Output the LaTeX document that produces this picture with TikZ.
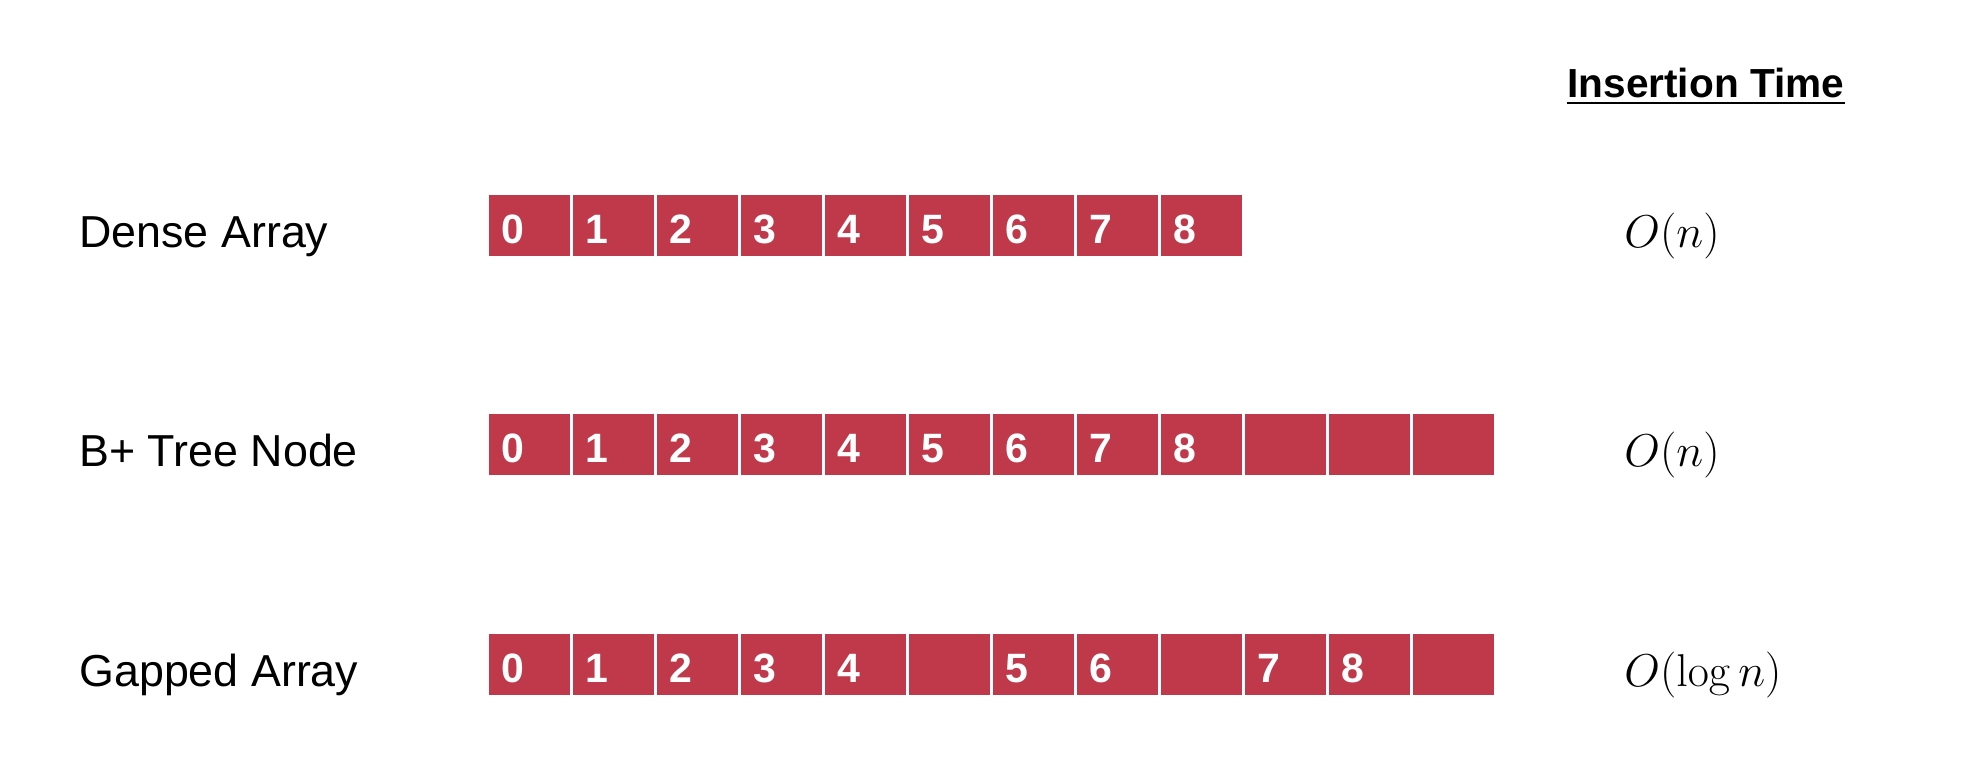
\RequirePackage{fix-cm}
\documentclass[tikz,border=0pt]{standalone}
\usepackage[no-math]{fontspec}
\setmainfont{Liberation Sans}
\definecolor{cellred}{RGB}{191,57,75}
\tikzset{
  cell/.style={anchor=north west,fill=cellred,draw=white,line width=1.6pt,
    minimum height=32pt,text width=28pt,inner xsep=7pt,inner ysep=0pt,
    text height=18.4pt,text depth=0pt,align=left,text=white,
    font=\fontsize{20.5}{21}\selectfont\bfseries},
  rowname/.style={anchor=base west,inner sep=0pt,font=\fontsize{22.4}{26}\selectfont},
  cost/.style={anchor=base west,inner sep=0pt,font=\fontsize{23}{27}\selectfont},
  heading/.style={anchor=base west,inner sep=0pt,font=\fontsize{20.3}{24}\selectfont\bfseries},
}
\begin{document}
\begin{tikzpicture}[x=0.5pt,y=-0.5pt]
\useasboundingbox (0,0) rectangle (1970,756);
% the heading, underlined
\node[heading] (hdr) at (1567,97) {Insertion Time};
\draw[line width=1.2pt] ([yshift=-3pt]hdr.base west) -- ([yshift=-3pt]hdr.base east);
% the row names
\node[rowname] (dense) at (79,247) {Dense Array};
\node[rowname] (btree) at (79,466) {B+ Tree Node};
\node[rowname] (gapped) at (79,686) {Gapped Array};
% the cells of each row
\foreach \v [count=\i from 0] in {0,1,2,3,4,5,6,7,8}
  \node[cell] (d\i) at (486+\i*84,191.8) {\v};
\foreach \v [count=\i from 0] in {0,1,2,3,4,5,6,7,8,{},{},{}}
  \node[cell] (b\i) at (486+\i*84,410.8) {\v};
\foreach \v [count=\i from 0] in {0,1,2,3,4,{},5,6,{},7,8,{}}
  \node[cell] (g\i) at (486+\i*84,630.5) {\v};
% the costs
\node[cost] (tdense) at (1624,247) {$O(n)$};
\node[cost] (tbtree) at (1624,466) {$O(n)$};
\node[cost] (tgapped) at (1624,686) {$O(\log n)$};
\end{tikzpicture}
\end{document}
